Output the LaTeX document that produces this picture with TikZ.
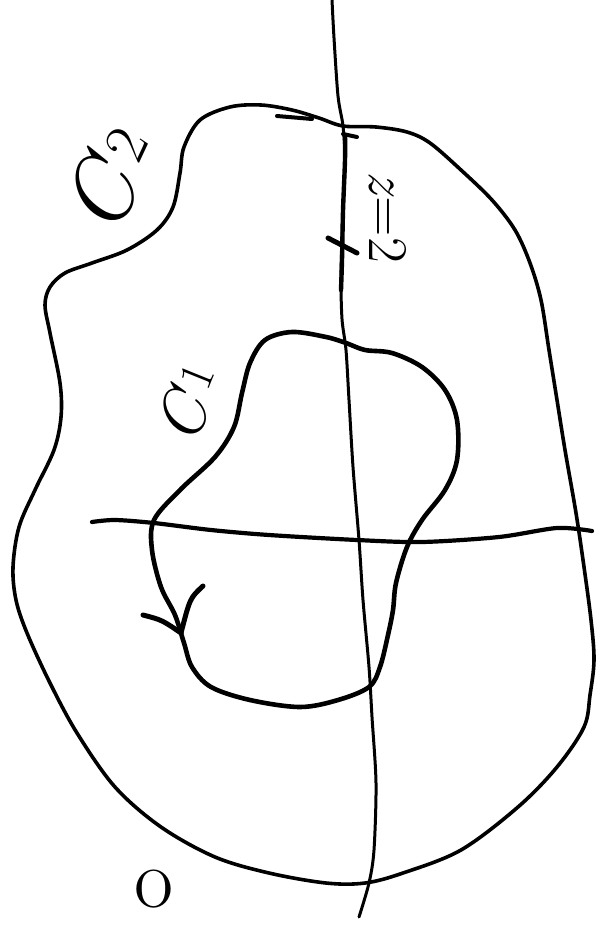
\documentclass[tikz,border=0pt]{standalone}
\usepackage{fontspec}
\begin{document}
\begin{tikzpicture}[x=1pt,y=-1pt, line cap=round, line join=round,
  outercurve/.style={line width=3.6pt},
  innercurve/.style={line width=4.6pt},
  vaxis/.style={line width=3pt},
  haxis/.style={line width=4.2pt},
  stroke/.style={line width=5pt},
  lbl/.style={inner sep=0pt, outer sep=0pt}]
\useasboundingbox (0,0) rectangle (599,926);

% vertical axis
\draw[vaxis] plot[smooth, tension=0.5] coordinates {(332,0) (334,38) (338,96) (343,126) (345,160) (343,211) (341,276) (342,319) (346,350) (349,400) (353,467) (359,540) (363,600) (369,667) (372,717) (376,783) (374,850) (369,883) (359,917)};
\draw[line width=4.4pt] plot[smooth, tension=0.5] coordinates {(345,135) (345,160) (343,211) (342,260) (341,290)};

% horizontal axis
\draw[haxis] plot[smooth, tension=0.5] coordinates {(92,522) (115,520) (154,523) (211,530) (269,535) (357,540) (422,542) (499,537) (557,528) (592,531)};

% outer contour C2
\draw[outercurve] plot[smooth cycle, tension=0.55] coordinates {(184,147) (200,120) (230,107) (261,105) (292,110) (319,118) (343,126) (376,127) (407,132) (430,143) (461,170) (492,200) (515,230) (530,263) (541,300) (549,350) (557,400) (565,450) (576,513) (584,567) (591,620) (594,660) (590,695) (584,727) (557,767) (518,807) (461,850) (403,873) (365,883) (326,883) (269,873) (215,857) (161,827) (115,787) (77,733) (50,683) (27,633) (16,600) (13,567) (19,527) (35,490) (54,450) (61,417) (60,383) (50,333) (45,305) (50,287) (65,273) (92,263) (127,250) (157,230) (173,207) (180,173)};

% inner contour C1
\draw[innercurve] plot[smooth cycle, tension=0.55] coordinates {(250,363) (265,340) (292,332) (326,337) (346,343) (365,350) (392,353) (422,367) (445,390) (457,420) (457,460) (445,490) (422,520) (407,547) (396,583) (393,610) (388,635) (380,667) (369,687) (338,700) (300,707) (250,700) (211,687) (192,667) (184,643) (175,615) (161,587) (152,550) (154,520) (180,490) (215,457) (234,427) (242,393)};

% arrow on C1
\coordinate (c1tip) at (181,633);
\coordinate (c1barbL) at (143,615);
\coordinate (c1barbR) at (203,586);
\draw[stroke] (c1barbL) .. controls (162,620) .. (c1tip);
\draw[stroke] (c1barbR) .. controls (190,598) .. (c1tip);

% half arrow on C2
\coordinate (c2tip) at (312,119);
\coordinate (c2barb) at (277,116);
\draw[line width=4pt] (c2barb) -- (c2tip);
\coordinate (tickA) at (343,134);
\coordinate (tickB) at (357,137);
\draw[line width=4pt] (tickA) -- (tickB);

% cross at z=2
\coordinate (crossA) at (328,238);
\coordinate (crossB) at (357,253);
\draw[stroke] (crossA) -- (crossB);

% labels
\node[lbl, rotate=65, font=\fontsize{92}{92}\selectfont] (c2label) at (109,179) {\textit{C}\kern3pt\raisebox{10pt}{\fontsize{60}{60}\selectfont 2}};
\node[lbl, rotate=68, font=\fontsize{66}{66}\selectfont] (c1label) at (188,403) {\textit{C}\kern3pt\raisebox{8pt}{\fontsize{48}{48}\selectfont 1}};
\node[lbl, rotate=-90, font=\fontsize{56}{56}\selectfont] (zlabel) at (388,217) {\textit{z}=2};
\node[lbl, font=\fontsize{85}{85}\selectfont] (olabel) at (154,889) {o};
\end{tikzpicture}
\end{document}
